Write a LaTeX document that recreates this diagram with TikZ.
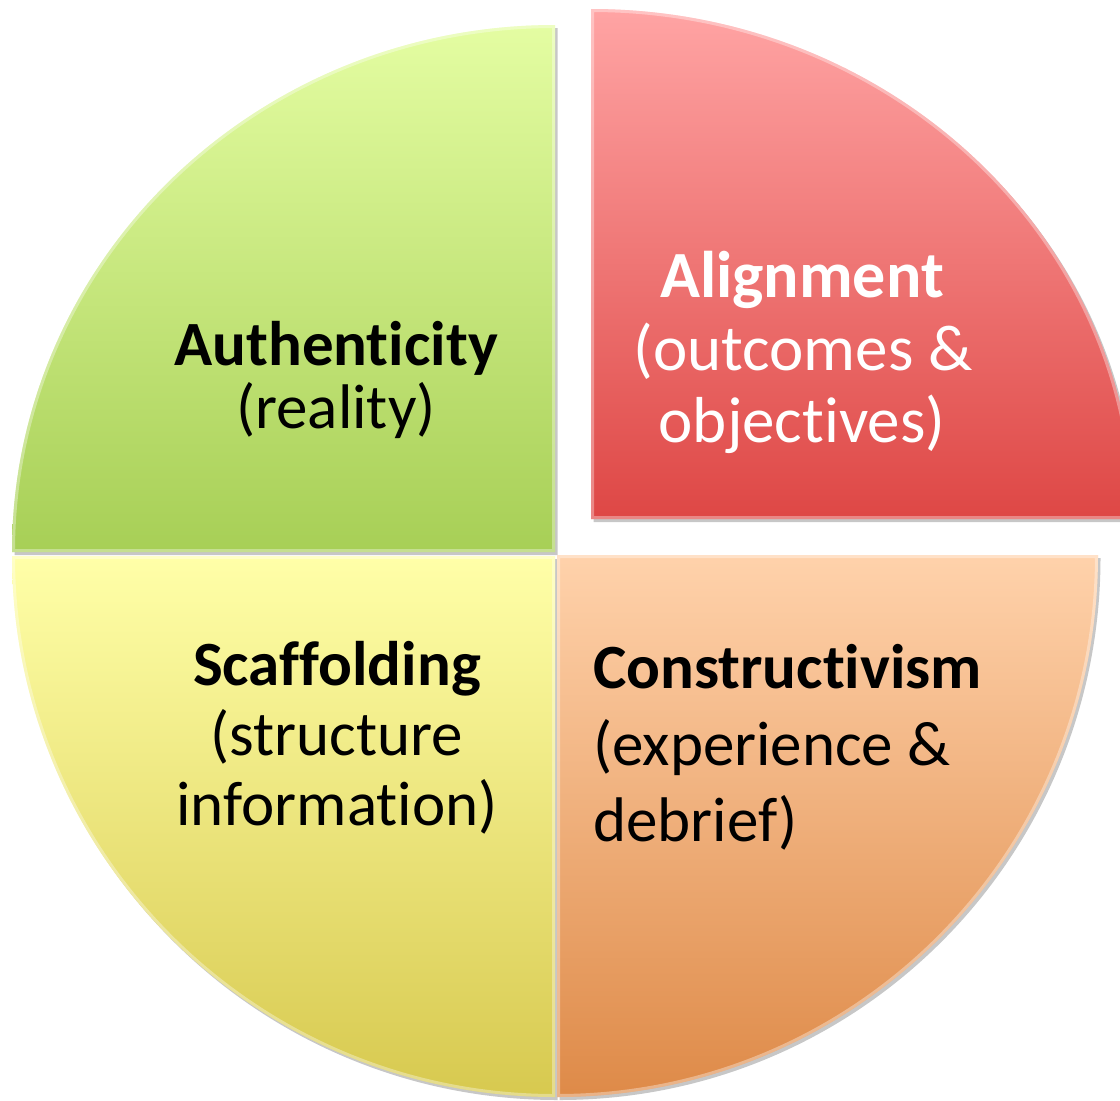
\documentclass[tikz,border=0pt]{standalone}
\usepackage{fontspec}
\setmainfont[Ligatures=NoCommon]{Carlito}
\definecolor{gTop}{HTML}{E4FDA2}
\definecolor{gBot}{HTML}{A7CF56}
\definecolor{rTop}{HTML}{FFA4A4}
\definecolor{rBot}{HTML}{DE4745}
\definecolor{pTop}{HTML}{FFD2AB}
\definecolor{pBot}{HTML}{DE8A48}
\definecolor{yTop}{HTML}{FFFFA8}
\definecolor{yBot}{HTML}{D7C94F}
\begin{document}
\begin{tikzpicture}[x=1pt,y=-1pt,
  boldlbl/.style={anchor=base,inner sep=0,font=\fontsize{63}{63}\selectfont\bfseries},
  reglbl/.style={anchor=base,inner sep=0,font=\fontsize{63}{63}\selectfont},
  wedgeshadow/.style={fill=black,opacity=0.22},
  wedgehighlight/.style={draw=white,opacity=0.35,line width=6pt},
]
\useasboundingbox (0,0) rectangle (1120,1101);
\clip (0,0) rectangle (1120,1101);
% shadows
\foreach \sx/\sy/\cx/\cy/\sa/\ea/\rx/\ry in {
  12/552/555/552/180/270/543/527,
  591/9/591/519/270/360/543/510,
  1098/555/557/555/0/90/541/542,
  555/1097/555/556/90/180/543/541}{
  \fill[wedgeshadow] ([shift={(2.5,3)}]\cx,\cy) -- ([shift={(2.5,3)}]\sx,\sy)
    arc[start angle=\sa,end angle=\ea,x radius=\rx,y radius=\ry] -- cycle;
}
% wedges
\foreach \sx/\sy/\cx/\cy/\sa/\ea/\rx/\ry/\tc/\bc in {
  12/552/555/552/180/270/543/527/gTop/gBot,
  591/9/591/519/270/360/543/510/rTop/rBot,
  1098/555/557/555/0/90/541/542/pTop/pBot,
  555/1097/555/556/90/180/543/541/yTop/yBot}{
  \shade[top color=\tc,bottom color=\bc] (\cx,\cy) -- (\sx,\sy)
    arc[start angle=\sa,end angle=\ea,x radius=\rx,y radius=\ry] -- cycle;
  \begin{scope}
    \clip (\cx,\cy) -- (\sx,\sy)
      arc[start angle=\sa,end angle=\ea,x radius=\rx,y radius=\ry] -- cycle;
    \draw[wedgehighlight] (\cx,\cy) -- (\sx,\sy)
      arc[start angle=\sa,end angle=\ea,x radius=\rx,y radius=\ry] -- cycle;
  \end{scope}
}
% labels
\node[boldlbl] (authA) at (336,365) {Authenticity};
\node[reglbl] (authB) at (336,428) {(reality)};
\node[boldlbl,text=white,font=\fontsize{66}{66}\selectfont\bfseries] (alA) at (802,297) {Alignment};
\node[reglbl,text=white,font=\fontsize{65}{65}\selectfont] (alB) at (803,370) {(outcomes \&};
\node[reglbl,text=white,font=\fontsize{65}{65}\selectfont] (alC) at (802,442) {objectives)};
\node[boldlbl] (scA) at (337,685) {Scaffolding};
\node[reglbl] (scB) at (337,755) {(structure};
\node[reglbl] (scC) at (337,825) {information)};
\node[boldlbl,anchor=base west] (coA) at (593,688) {Constructivism};
\node[reglbl,anchor=base west] (coB) at (593,765) {(experience \&};
\node[reglbl,anchor=base west] (coC) at (593,841) {debrief)};
\end{tikzpicture}
\end{document}
